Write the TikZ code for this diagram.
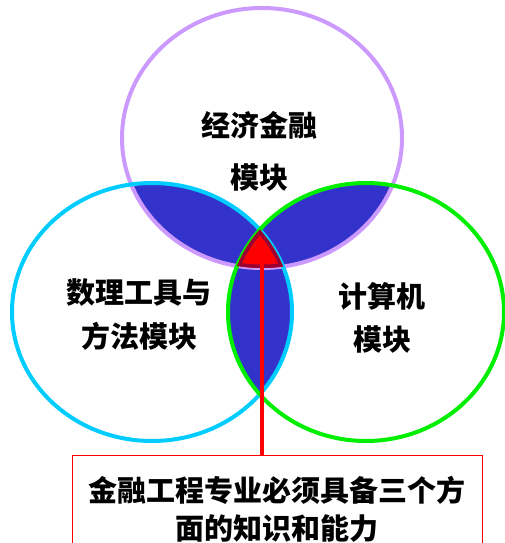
\documentclass[tikz,border=0pt]{standalone}
\usepackage{fontspec}
\newfontfamily\cjk{Noto Sans CJK SC}
\definecolor{ringpurple}{HTML}{CC99FF}
\definecolor{ringcyan}{HTML}{00CCFF}
\definecolor{ringgreen}{HTML}{00EE00}
\definecolor{lobeblue}{HTML}{3333CC}
\definecolor{tribord}{HTML}{990033}
\begin{document}
\begin{tikzpicture}[x=1pt,y=-1pt,
  ring/.style={line width=4pt},
  lobe/.style={fill=lobeblue},
  modtext/.style={align=center, font=\cjk\bfseries\fontsize{29}{44}\selectfont}]
\useasboundingbox (0,0) rectangle (504,543);
\def\econring{(262,138) ellipse [x radius=140pt, y radius=130pt]}
\def\mathring{(152,312) ellipse [x radius=140pt, y radius=129pt]}
\def\compring{(366,312) ellipse [x radius=138pt, y radius=129pt]}
% overlaps
\begin{scope}
\clip \econring;
\fill[lobe] \mathring;
\fill[lobe] \compring;
\end{scope}
\begin{scope}
\clip \mathring;
\fill[lobe] \compring;
\end{scope}
\draw[ring, draw=ringpurple] \econring;
\draw[ring, draw=ringcyan] \mathring;
\draw[ring, draw=ringgreen] \compring;
% centre
\begin{scope}
\clip \econring; \clip \mathring; \clip \compring;
\fill[red] (0,0) rectangle (504,543);
\draw[draw=tribord, line width=7pt] \econring \mathring \compring;
\end{scope}
\coordinate (apex) at (262,264);
\node[modtext, font=\cjk\bfseries\fontsize{29}{52}\selectfont] (econ) at (259,151) {经济金融\\模块};
\node[modtext] (math) at (139,315) {数理工具与\\方法模块};
\node[modtext, font=\cjk\bfseries\fontsize{29}{43}\selectfont] (comp) at (382,318) {计算机\\模块};
\node[draw=red, line width=1pt, minimum width=410pt, minimum height=108pt, anchor=north,
  modtext, font=\cjk\bfseries\fontsize{29}{38}\selectfont] (need) at (277,455)
  {金融工程专业必须具备三个方\\面的知识和能力};
\draw[red, line width=3.5pt] (apex) -- (apex |- need.north);
\end{tikzpicture}
\end{document}
